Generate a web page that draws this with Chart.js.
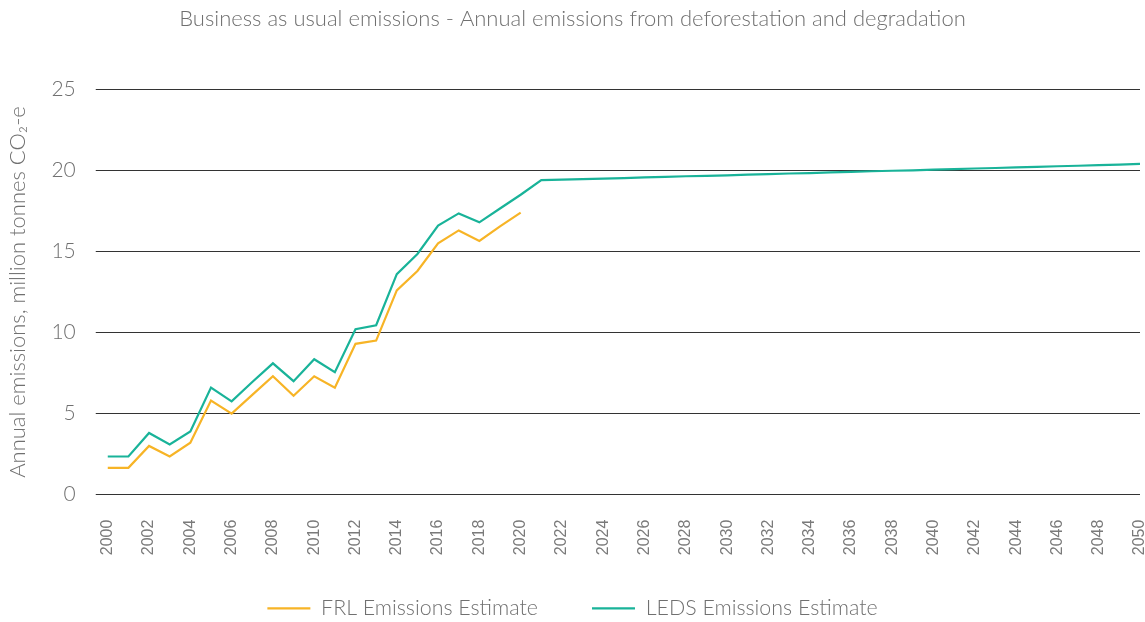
<!DOCTYPE html>
<html>
<head>
<meta charset="utf-8">
<script src="https://cdn.jsdelivr.net/npm/chart.js@4"></script>
<style>
  html, body { margin: 0; padding: 0; background: #fff; }
  #wrap { width: 1145px; height: 622px; }
</style>
</head>
<body>
<div id="wrap"><canvas id="EmChart"></canvas></div>
<script>
var years = [];
for (var y = 2000; y <= 2050; y++) years.push(String(y));

var frlValues = [1.65, 1.65, 3.0, 2.35, 3.2, 5.8, 5.0, 6.15, 7.3, 6.1, 7.3, 6.6, 9.3, 9.5, 12.6, 13.8, 15.5, 16.3, 15.65, 16.55, 17.4];

var ledsValues = [2.35, 2.35, 3.8, 3.1, 3.9, 6.6, 5.75, 6.95, 8.1, 7.0, 8.35, 7.55, 10.2, 10.45, 13.6, 14.85, 16.6, 17.35, 16.8, 17.65, 18.5,
  19.4, 19.43, 19.47, 19.5, 19.53, 19.57, 19.6, 19.64, 19.67, 19.7, 19.74, 19.77, 19.81, 19.84, 19.88, 19.91, 19.95, 19.98, 20.01,
  20.05, 20.08, 20.12, 20.15, 20.19, 20.22, 20.26, 20.29, 20.33, 20.36, 20.4];

var frlLabel = "FRL Emissions Estimate";
var ledsLabel = "LEDS Emissions Estimate";
var chartTitle = "Business as usual emissions - Annual emissions from deforestation and degradation";
var yAxisLabel = "Annual emissions, million tonnes CO\u2082-e";

var fontName = "Lato";
var textColor = "#707070";

// labels on the x axis hang below the axis band, so let them draw past it
var xLabelRoom = {
    id: 'xLabelRoom',
    afterLayout: function(chart){
        chart.scales.x.bottom += 20;
    }
};

function getConfig(){
    let config = {
        type: 'line',
        data: {
            labels: years,
            datasets: [
                {
                    label: frlLabel,
                    data: frlValues,
                    borderColor: '#F7B426',
                    backgroundColor: '#F7B426',
                    borderWidth: 2.2,
                    pointRadius: 0,
                    tension: 0
                },
                {
                    label: ledsLabel,
                    data: ledsValues,
                    borderColor: '#19B399',
                    backgroundColor: '#19B399',
                    borderWidth: 2.2,
                    pointRadius: 0,
                    tension: 0
                }
            ]
        },
        plugins: [xLabelRoom],
        options: {
            responsive: true,
            maintainAspectRatio: false,
            animation: false,
            layout: { padding: { left: 5, right: 5, top: 0, bottom: -7 } },
            plugins: {
                title: {
                    display: true,
                    text: chartTitle,
                    color: textColor,
                    font: { family: fontName, size: 22, weight: '300' },
                    padding: { top: 6, bottom: 57 }
                },
                legend: {
                    position: 'bottom',
                    labels: {
                        color: textColor,
                        font: { family: fontName, size: 21.4, weight: '300' },
                        boxWidth: 43,
                        boxHeight: 0,
                        padding: 54
                    }
                },
                tooltip: { enabled: false }
            },
            scales: {
                x: {
                    grid: { display: false, drawTicks: false },
                    border: { display: false },
                    afterFit: function(scale){
                        scale.paddingRight = 0;
                        scale.paddingLeft = 0;
                        scale.height = 49;
                    },
                    ticks: {
                        color: '#7a7a7a',
                        font: { family: "'Liberation Sans', sans-serif", size: 16 },
                        minRotation: 90,
                        maxRotation: 90,
                        autoSkip: false,
                        padding: 25,
                        callback: function(val, idx){
                            return idx % 2 == 0 ? this.getLabelForValue(val) : '';
                        }
                    }
                },
                y: {
                    min: 0,
                    max: 25,
                    border: { display: false },
                    grid: {
                        color: '#333333',
                        lineWidth: 1,
                        tickLength: 12
                    },
                    ticks: {
                        stepSize: 5,
                        color: textColor,
                        padding: 20,
                        font: { family: fontName, size: 21, weight: '300' }
                    },
                    title: {
                        display: true,
                        text: yAxisLabel,
                        color: textColor,
                        font: { family: fontName, size: 22, weight: '300' },
                        padding: { top: 0, bottom: 0 }
                    }
                }
            }
        }
    };
    return config;
}

var EmChart = new Chart(document.getElementById('EmChart'), getConfig());
</script>
</body>
</html>
